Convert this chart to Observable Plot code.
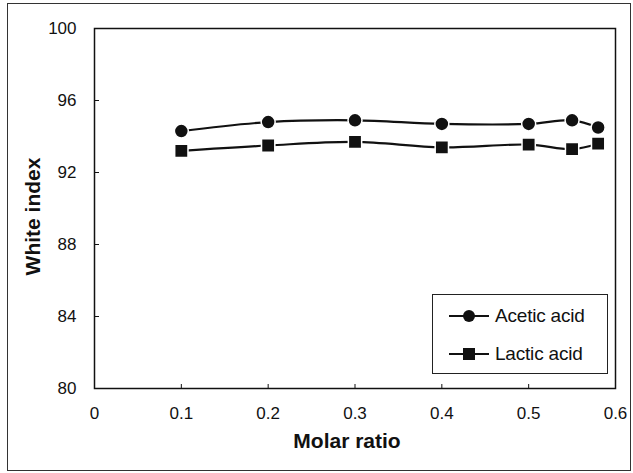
<!DOCTYPE html>
<html>
<head>
<meta charset="utf-8">
<script src="https://cdn.jsdelivr.net/npm/d3@7"></script>
<script src="https://cdn.jsdelivr.net/npm/@observablehq/plot@0.6"></script>
<style>
  html, body { margin: 0; padding: 0; background: #fff; }
  #wrap { position: relative; width: 633px; height: 473px; font-family: "Liberation Sans", Arial, sans-serif; }
  #outer { position: absolute; left: 7px; top: 3px; width: 622px; height: 466px; border: 1.5px solid #333; pointer-events: none; }
  #legend { position: absolute; left: 432px; top: 294px; width: 174px; height: 78px; border: 1px solid #222; background: #fff; }
  .item { position: absolute; left: 0; height: 20px; display: flex; align-items: center; font-size: 19px; color: #111; letter-spacing: -0.2px; }
  .item svg { margin-left: 15px; margin-right: 5px; }
</style>
</head>
<body>
<div id="wrap"></div>
<script>
const molarRatio = [0.1, 0.2, 0.3, 0.4, 0.5, 0.55, 0.58];
const aceticAcid = [94.3, 94.8, 94.9, 94.7, 94.7, 94.9, 94.5];
const lacticAcid = [93.2, 93.5, 93.7, 93.4, 93.55, 93.3, 93.6];
const seriesNames = ["Acetic acid", "Lactic acid"];
const xTicks = [0, 0.1, 0.2, 0.3, 0.4, 0.5, 0.6];
const yTicks = [80, 84, 88, 92, 96, 100];

const acetic = molarRatio.map((x, i) => ({x, y: aceticAcid[i], s: seriesNames[0]}));
const lactic = molarRatio.map((x, i) => ({x, y: lacticAcid[i], s: seriesNames[1]}));

const chart = Plot.plot({
  width: 633,
  height: 473,
  marginLeft: 94,
  marginRight: 18,
  marginTop: 28,
  marginBottom: 85,
  style: {fontFamily: "'Liberation Sans', Arial, sans-serif", color: "#111", background: "transparent"},
  x: {domain: [0, 0.6]},
  y: {domain: [80, 100]},
  marks: [
    Plot.frame({stroke: "#111", strokeWidth: 1.5}),
    Plot.axisX({ticks: xTicks, tickSize: -4, tickPadding: 22, tickFormat: d => d === 0 ? "0" : d3.format(".1f")(d), fontSize: 17, label: null}),
    Plot.axisY({ticks: yTicks, tickSize: -5, tickPadding: 23, fontSize: 17, label: null}),
    Plot.text(["Molar ratio"], {frameAnchor: "bottom", dy: 53, dx: -8, text: d => d, fontSize: 21, fontWeight: "bold", lineAnchor: "middle"}),
    Plot.text(["White index"], {frameAnchor: "left", dx: -61, dy: 8, rotate: -90, textAnchor: "middle", text: d => d, fontSize: 21, fontWeight: "bold"}),
    Plot.line(acetic, {x: "x", y: "y", stroke: "#111", strokeWidth: 2.2, curve: "catmull-rom"}),
    Plot.line(lactic, {x: "x", y: "y", stroke: "#111", strokeWidth: 2.2, curve: "catmull-rom"}),
    Plot.dot(acetic, {x: "x", y: "y", r: 7, fill: "#111", stroke: "#fff", strokeWidth: 1.5}),
    Plot.dot(lactic, {x: "x", y: "y", r: 7.5, symbol: "square", fill: "#111", stroke: "#fff", strokeWidth: 1.5})
  ]
});

const wrap = document.getElementById("wrap");
wrap.appendChild(chart);
const outer = document.createElement("div");
outer.id = "outer";
wrap.appendChild(outer);

const legend = document.createElement("div");
legend.id = "legend";
const symbols = ["circle", "square"];
seriesNames.forEach((name, i) => {
  const item = document.createElement("div");
  item.className = "item";
  item.style.top = (11 + i * 38) + "px";
  const sym = symbols[i] === "circle"
    ? '<circle cx="21" cy="10" r="6" fill="#111"/>'
    : '<rect x="15" y="4" width="12" height="12" fill="#111"/>';
  item.innerHTML = '<svg width="42" height="20"><line x1="1" y1="10" x2="41" y2="10" stroke="#111" stroke-width="2.2"/>' + sym + '</svg><span>' + name + '</span>';
  legend.appendChild(item);
});
wrap.appendChild(legend);
</script>
</body>
</html>
